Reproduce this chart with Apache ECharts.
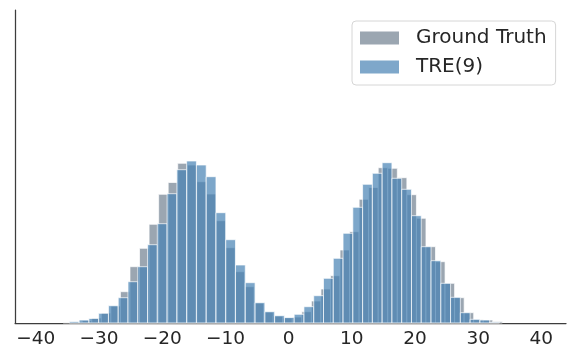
<!DOCTYPE html>
<html>
<head>
<meta charset="utf-8">
<title>Ground Truth vs TRE(9)</title>
<script src="https://cdn.jsdelivr.net/npm/echarts@6/dist/echarts.min.js"></script>
<style>
    html, body { margin: 0; padding: 0; background: #fff; }
    #div_hist { width: 576px; height: 360px; }
</style>
</head>
<body>
<div id="div_hist"></div>
<script>
    'use strict';

    // x tick labels
    var tickValues = [-40, -30, -20, -10, 0, 10, 20, 30, 40];

    // Ground Truth histogram: first bin edge, bin width, counts per bin
    var gtBinStart = -35.68;
    var gtBinWidth = 1.511;
    var gtCounts = [
        0.5, 1, 2.5, 5, 10, 17, 31.3, 56.3, 74.7, 98.7,
        128.7, 140.5, 159.7, 158, 141.3, 129, 102.3, 75.3, 51.3, 36.3,
        20, 11, 7, 5, 6, 11.3, 22, 34, 47.3, 73,
        91.3, 123.7, 135.5, 155.3, 154.7, 145.3, 128.3, 104.7, 76.3, 61.3,
        39.7, 25.3, 10.3, 3.3, 3, 1.3
    ];

    // TRE(9) histogram
    var treBinStart = -34.70;
    var treBinWidth = 1.547;
    var treCounts = [
        1.3, 3, 4.5, 9.7, 17.3, 25.3, 41.3, 56.3, 78.3, 99.3,
        129.3, 153.3, 162, 158, 146.3, 110.3, 83.3, 58, 40.3, 20.3,
        11.3, 7.3, 5.5, 8.7, 16.3, 27.3, 44.7, 64.7, 89.7, 115.7,
        138.7, 149.7, 160.3, 144.7, 133.7, 107.3, 76.3, 62.3, 39.7, 25.7,
        10.3, 3.7, 3, 0.7
    ];

    var seriesNames = ['Ground Truth', 'TRE(9)'];

    function toBins(start, width, counts) {
        var rows = [];
        for (var i = 0; i < counts.length; i++) {
            rows.push([start + i * width, start + (i + 1) * width, counts[i]]);
        }
        return rows;
    }

    function renderBar(params, api) {
        var topLeft = api.coord([api.value(0), api.value(2)]);
        var bottomRight = api.coord([api.value(1), 0]);
        return {
            type: 'rect',
            shape: {
                x: topLeft[0],
                y: topLeft[1],
                width: bottomRight[0] - topLeft[0],
                height: bottomRight[1] - topLeft[1]
            },
            style: api.style({ stroke: '#ffffff', lineWidth: 1 })
        };
    }

    function fmtTick(v) {
        return v < 0 ? '\u2212' + Math.abs(v) : String(v);
    }

    var myChart = echarts.init(document.getElementById('div_hist'));
    myChart.setOption({
        animation: false,
        backgroundColor: '#ffffff',
        grid: { left: 15, right: 10, top: 10, bottom: 37 },
        legend: {
            orient: 'vertical',
            left: 352,
            top: 21,
            padding: [7, 9, 8, 8],
            itemWidth: 39,
            itemHeight: 13,
            itemGap: 9,
            borderColor: '#d6d6d6',
            borderWidth: 1,
            borderRadius: 4,
            textStyle: {
                fontFamily: 'DejaVu Sans',
                fontSize: 20,
                lineHeight: 20,
                color: '#262626',
                padding: [0, 0, 0, 12]
            },
            data: [
                { name: seriesNames[0], icon: 'rect', itemStyle: { color: '#9ba6b1', opacity: 1 } },
                { name: seriesNames[1], icon: 'rect', itemStyle: { color: '#7ea7ca', opacity: 1 } }
            ]
        },
        xAxis: {
            type: 'value',
            min: -43.3,
            max: 43.9,
            splitLine: { show: false },
            axisTick: { show: false },
            axisLine: { onZero: false, lineStyle: { color: '#3d3d3d', width: 1.25 } },
            axisLabel: {
                customValues: tickValues,
                formatter: fmtTick,
                margin: 7,
                fontFamily: 'DejaVu Sans',
                fontSize: 18.5,
                color: '#262626'
            }
        },
        yAxis: {
            type: 'value',
            min: 0,
            max: 313,
            splitLine: { show: false },
            axisTick: { show: false },
            axisLabel: { show: false },
            axisLine: { show: true, onZero: false, lineStyle: { color: '#3d3d3d', width: 1.25 } }
        },
        series: [
            {
                name: seriesNames[0],
                type: 'custom',
                renderItem: renderBar,
                encode: { x: [0, 1], y: 2 },
                itemStyle: { color: '#708090', opacity: 0.7 },
                z: 2,
                data: toBins(gtBinStart, gtBinWidth, gtCounts)
            },
            {
                name: seriesNames[1],
                type: 'custom',
                renderItem: renderBar,
                encode: { x: [0, 1], y: 2 },
                itemStyle: { color: '#4682b4', opacity: 0.7 },
                z: 3,
                data: toBins(treBinStart, treBinWidth, treCounts)
            }
        ]
    });
</script>
</body>
</html>
